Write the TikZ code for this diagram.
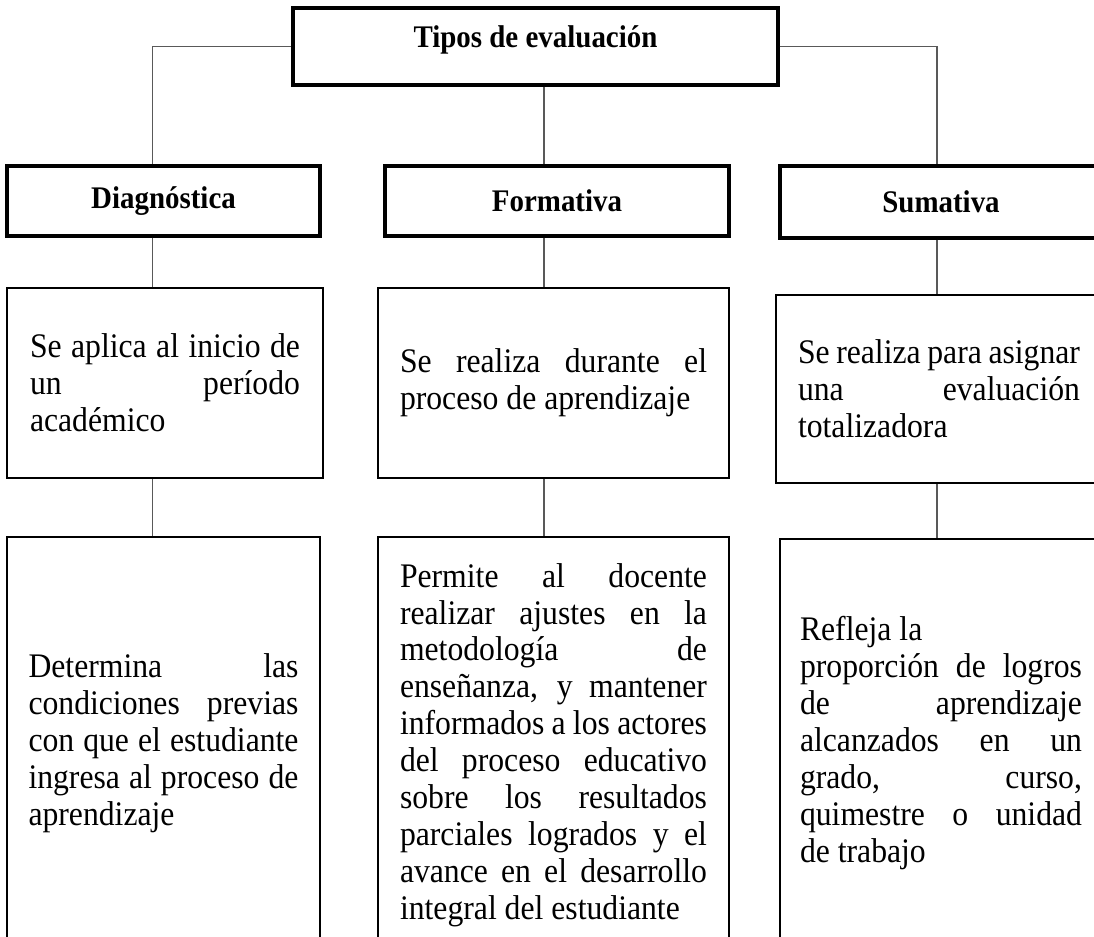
\documentclass[tikz,border=0pt]{standalone}
\usepackage{fontspec}
\setmainfont{Liberation Serif}[FakeStretch=0.92]

\begin{document}
\begin{tikzpicture}[scale=1,
    head/.style={draw, line width=1.9pt, align=center, font=\fontsize{17.9}{19}\selectfont\bfseries},
    txt/.style={draw, line width=1.1pt, align=justify, inner sep=0pt, font=\fontsize{19.6}{21}\selectfont},
    link/.style={draw=black!65, line width=0.6pt}]

  \useasboundingbox (0,0) rectangle (21.88,-18.74);
  \clip (0,0) rectangle (21.88,-18.74);

  % Title
  \node[head, text depth=0.4cm, minimum width=9.7cm, minimum height=1.54cm] (n0) at (10.71,-0.93) {Tipos de evaluación};

  % Types
  \node[head, minimum width=6.26cm, minimum height=1.4cm] (n1) at (3.27,-4.02) {Diagnóstica};
  \node[head, minimum width=6.88cm, minimum height=1.4cm] (n2) at (11.14,-4.02) {Formativa};
  \node[head, minimum width=6.44cm, minimum height=1.44cm] (n3) at (18.82,-4.04) {Sumativa};

  % When
  \node[txt, text width=5.4cm, minimum width=6.32cm, minimum height=3.8cm] (n4) at (3.30,-7.66)
    {Se aplica al inicio de\linebreak un período\linebreak académico};
  \node[txt, text width=6.14cm, minimum width=7.02cm, minimum height=3.8cm] (n5) at (11.07,-7.66)
    {Se realiza durante el\linebreak proceso de aprendizaje};
  \node[txt, text width=5.64cm, minimum width=6.52cm, minimum height=3.76cm] (n6) at (18.78,-7.78)
    {Se realiza para asignar\linebreak una evaluación\linebreak totalizadora};

  % What for
  \node[txt, line width=1pt, text width=5.4cm, minimum width=6.26cm, minimum height=8.26cm] (n7) at (3.27,-14.87)
    {Determina las\linebreak condiciones previas\linebreak con que el estudiante\linebreak ingresa al proceso de\linebreak aprendizaje};
  \node[txt, line width=1pt, text width=6.14cm, minimum width=7.02cm, minimum height=8.32cm] (n8) at (11.07,-14.9)
    {Permite al docente\linebreak realizar ajustes en la\linebreak metodología de\linebreak enseñanza, y mantener\linebreak informados a los actores\linebreak del proceso educativo\linebreak sobre los resultados\linebreak parciales logrados y el\linebreak avance en el desarrollo\linebreak integral del estudiante};
  \node[txt, line width=1pt, text width=5.64cm, minimum width=6.44cm, minimum height=8.16cm] (n9) at (18.82,-14.86)
    {Refleja la\newline proporción de logros\linebreak de aprendizaje\linebreak alcanzados en un\linebreak grado, curso,\linebreak quimestre o unidad\linebreak de trabajo};

  % Connectors
  \coordinate (c1) at (3.05,0);
  \coordinate (c2) at (10.88,0);
  \coordinate (c3) at (18.74,0);
  \draw[link] (n0.west) -| (c1 |- n1.north);
  \draw[link] (n0.south -| c2) -- (c2 |- n2.north);
  \draw[link] (n0.east) -| (c3 |- n3.north);
  \draw[link] (n1.south -| c1) -- (c1 |- n4.north);
  \draw[link] (n2.south -| c2) -- (c2 |- n5.north);
  \draw[link] (n3.south -| c3) -- (c3 |- n6.north);
  \draw[link] (n4.south -| c1) -- (c1 |- n7.north);
  \draw[link] (n5.south -| c2) -- (c2 |- n8.north);
  \draw[link] (n6.south -| c3) -- (c3 |- n9.north);

\end{tikzpicture}
\end{document}
